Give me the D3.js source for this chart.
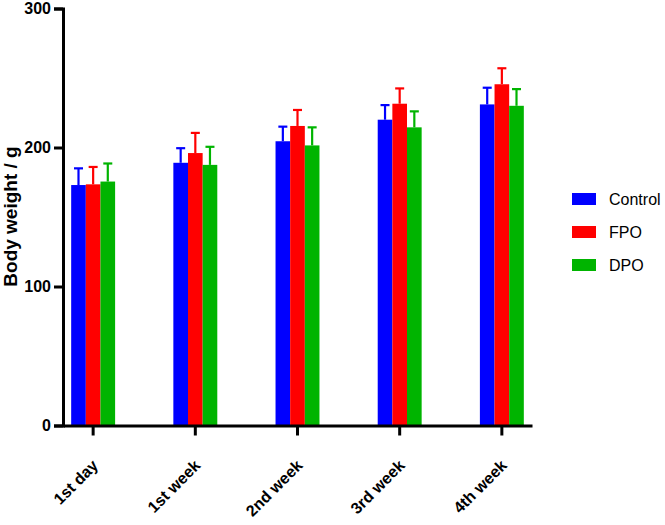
<!DOCTYPE html>
<html>
<head>
<meta charset="utf-8">
<script src="https://cdn.jsdelivr.net/npm/d3@7"></script>
<style>
  body { margin: 0; background: #fff; }
  svg { display: block; font-family: "Liberation Sans", Arial, sans-serif; }
</style>
</head>
<body>
<svg id="chart" width="665" height="525"></svg>
<script>
// 时间点
const categories = ['1st day', '1st week', '2nd week', '3rd week', '4th week'];
// 组别
const groups = ['Control', 'FPO', 'DPO'];
const colors = ['#0000ff', '#ff0000', '#00b400'];
// 均值 (g)
const controlMean = [173, 189, 204.5, 220, 231];
const fpoMean = [173.5, 196, 215.5, 231.5, 245.5];
const dpoMean = [175.5, 187.5, 201.5, 214.5, 230];
// 标准差 (只画上半部分)
const controlSD = [12, 10.5, 10.5, 10.5, 12];
const fpoSD = [12.5, 14.5, 11.5, 11, 11.5];
const dpoSD = [13, 13, 13, 11.5, 12];
const yTicks = [0, 100, 200, 300];

const means = [controlMean, fpoMean, dpoMean];
const sds = [controlSD, fpoSD, dpoSD];

let svg = d3.select('#chart');
let margin = {left: 63, top: 8.5, right: 133, bottom: 99.5};
let width = 665, height = 525;

// 比例尺
let x = d3.scaleBand()
    .domain(categories)
    .range([margin.left, width - margin.right])
    .paddingInner(0.57)
    .paddingOuter(0.08);
let xs = d3.scaleBand()
    .domain(groups)
    .range([0, x.bandwidth()]);
let y = d3.scaleLinear()
    .domain([0, 300])
    .range([height - margin.bottom, margin.top]);

// 数据展开
let rows = [];
categories.forEach(function (c, i) {
    groups.forEach(function (g, j) {
        rows.push({cat: c, group: g, gi: j, mean: means[j][i], sd: sds[j][i]});
    });
});

// 柱子
svg.append('g').selectAll('rect')
    .data(rows)
    .enter()
    .append('rect')
    .attr('x', d => x(d.cat) + xs(d.group))
    .attr('y', d => y(d.mean))
    .attr('width', xs.bandwidth())
    .attr('height', d => y(0) - y(d.mean))
    .attr('fill', d => colors[d.gi]);

// 误差线
let err = svg.append('g').selectAll('g')
    .data(rows)
    .enter()
    .append('g')
    .attr('stroke', d => colors[d.gi])
    .attr('stroke-width', 2.2);
err.append('line')
    .attr('x1', d => x(d.cat) + xs(d.group) + xs.bandwidth() / 2)
    .attr('x2', d => x(d.cat) + xs(d.group) + xs.bandwidth() / 2)
    .attr('y1', d => y(d.mean))
    .attr('y2', d => y(d.mean + d.sd));
err.append('line')
    .attr('x1', d => x(d.cat) + xs(d.group) + xs.bandwidth() / 2 - 4.5)
    .attr('x2', d => x(d.cat) + xs(d.group) + xs.bandwidth() / 2 + 4.5)
    .attr('y1', d => y(d.mean + d.sd))
    .attr('y2', d => y(d.mean + d.sd));

// x 轴
let gx = svg.append('g')
    .attr('transform', 'translate(0,' + y(0) + ')')
    .call(d3.axisBottom(x).tickSizeInner(10).tickSizeOuter(0));
gx.select('.domain').attr('stroke-width', 3);
gx.selectAll('.tick line').attr('stroke-width', 3);
gx.selectAll('.tick text')
    .attr('x', 0).attr('y', 0).attr('dy', 0)
    .attr('transform', 'translate(6,41) rotate(-45)')
    .attr('text-anchor', 'end')
    .attr('font-size', 16)
    .attr('font-weight', 'bold')
    .attr('font-family', '"Liberation Sans", Arial, sans-serif')
    .attr('fill', '#000');

// y 轴
let gy = svg.append('g')
    .attr('transform', 'translate(' + margin.left + ',0)')
    .call(d3.axisLeft(y).tickValues(yTicks).tickSize(9).tickPadding(3));
gy.select('.domain').attr('stroke-width', 3);
gy.selectAll('.tick line').attr('stroke-width', 3);
gy.selectAll('.tick text')
    .attr('font-size', 16)
    .attr('font-weight', 'bold')
    .attr('font-family', '"Liberation Sans", Arial, sans-serif')
    .attr('fill', '#000');

// y 轴标题
svg.append('text')
    .attr('transform', 'translate(16.5,216.5) rotate(-90)')
    .attr('text-anchor', 'middle')
    .attr('font-size', 19)
    .attr('font-weight', 'bold')
    .text('Body weight / g');

// 图例
let legend = svg.append('g').attr('transform', 'translate(572,199)');
groups.forEach(function (g, i) {
    let row = legend.append('g').attr('transform', 'translate(0,' + (i * 33) + ')');
    row.append('rect')
        .attr('x', 0).attr('y', -6)
        .attr('width', 24).attr('height', 12)
        .attr('fill', colors[i]);
    row.append('text')
        .attr('x', 37).attr('y', 6)
        .attr('font-size', 16)
        .text(g);
});
</script>
</body>
</html>
